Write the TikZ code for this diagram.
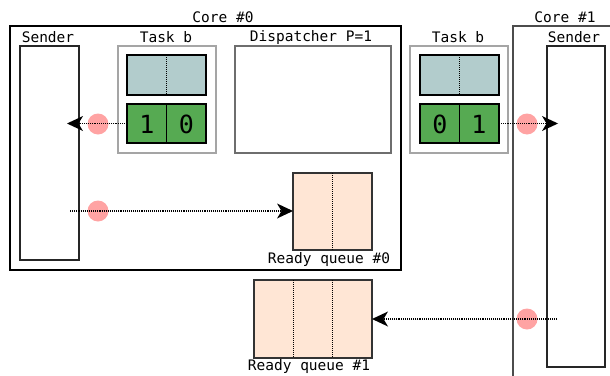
\documentclass[tikz,border=0pt]{standalone}
\usepackage{fontspec}
\setmainfont{DejaVu Sans Mono}
\usetikzlibrary{arrows.meta,calc}
\definecolor{cellteal}{RGB}{178,204,204}
\definecolor{cellgreen}{RGB}{86,170,82}
\definecolor{queuefill}{RGB}{255,230,213}
\definecolor{tokenpink}{RGB}{255,163,163}
\definecolor{framegray}{RGB}{165,165,165}
\definecolor{dispgray}{RGB}{110,110,110}
\begin{document}
\begin{tikzpicture}[x=1pt,y=-1pt,
  lbl/.style={font=\fontsize{14.5}{16}\selectfont, anchor=base, inner sep=0},
  rect/.style={rectangle, anchor=north west, inner sep=0, outer sep=0},
  senderbox/.style={rect, draw=black!85, line width=1.4pt},
  taskframe/.style={rect, draw=framegray, line width=1.5pt},
  dispbox/.style={rect, draw=dispgray, line width=1.3pt},
  stateA/.style={rect, draw=black, line width=1.3pt, fill=cellteal, minimum width=79pt, minimum height=40pt},
  stateB/.style={rect, draw=black, line width=1.3pt, fill=cellgreen, minimum width=79pt, minimum height=39pt},
  queuebox/.style={rect, draw=black!80, line width=1.3pt, fill=queuefill},
  digit/.style={font=\fontsize{25}{28}\selectfont, inner sep=0},
  token/.style={circle, fill=tokenpink, minimum size=21pt, inner sep=0},
  sep/.style={black, line width=1.2pt, dash pattern=on 1pt off 1pt},
  flow/.style={black, line width=1.6pt, dash pattern=on 1.1pt off 1pt,
    -{Stealth[length=16pt,width=15pt,inset=4.5pt,line width=0pt]}},
]
\useasboundingbox (0,0) rectangle (610,375);

% ---- Core #0 ----
\node[rect, draw=black, line width=2.8pt, minimum width=391pt, minimum height=244pt] (core0) at (10,26) {};
\node[lbl] (core0l) at (223,22) {Core \#0};

\node[senderbox, minimum width=59pt, minimum height=214pt] (s0) at (20,46) {};
\node[lbl] (s0l) at (48,42) {Sender};

\node[taskframe, minimum width=98pt, minimum height=107pt] (tb0) at (118,46) {};
\node[lbl] (tb0l) at (166,42) {Task b};
\node[stateA] (a0) at (127,55) {};
\draw[sep] (a0.north) -- (a0.south);
\node[stateB] (g0) at (127,104) {};
\draw[black, line width=1.3pt] (g0.north) -- (g0.south);
\node[digit] (g0d1) at (147,124) {1};
\node[digit] (g0d2) at (186.5,124) {0};

\node[dispbox, minimum width=156pt, minimum height=107pt] (disp) at (235,46) {};
\node[lbl] (displ) at (311,41) {Dispatcher P=1};

\node[queuebox, minimum width=79pt, minimum height=77pt] (rq0) at (293,173) {};
\draw[sep] (rq0.north) -- (rq0.south);
\node[lbl] (rq0l) at (329,263) {Ready queue \#0};

% ---- Ready queue #1 ----
\node[queuebox, minimum width=118pt, minimum height=78pt] (rq1) at (254,280) {};
\draw[sep] ($(rq1.north west)!1/3!(rq1.north east)$) -- ($(rq1.south west)!1/3!(rq1.south east)$);
\draw[sep] ($(rq1.north west)!2/3!(rq1.north east)$) -- ($(rq1.south west)!2/3!(rq1.south east)$);
\node[lbl] (rq1l) at (309,370) {Ready queue \#1};

% ---- Task b seen from core #1 ----
\node[taskframe, minimum width=98pt, minimum height=107pt] (tb1) at (410,46) {};
\node[lbl] (tb1l) at (458,42) {Task b};
\node[stateA] (a1) at (420,55) {};
\draw[sep] (a1.north) -- (a1.south);
\node[stateB] (g1) at (420,104) {};
\draw[black, line width=1.3pt] (g1.north) -- (g1.south);
\node[digit] (g1d1) at (440,124) {0};
\node[digit] (g1d2) at (479,124) {1};

% ---- Core #1 (frame runs past the picture edge) ----
\draw[black!70, line width=1.3pt] (611,26) -- (513,26) -- (513,376);
\node[lbl] (core1l) at (565,22) {Core \#1};
\node[senderbox, minimum width=58pt, minimum height=321pt] (s1) at (547,46) {};
\node[lbl] (s1l) at (574,42) {Sender};

% ---- Messages in flight ----
\node[token] (m1) at (98,124) {};
\node[token] (m2) at (98,211) {};
\node[token] (m3) at (527,124) {};
\node[token] (m4) at (527,319) {};

\coordinate (m1tip) at ([xshift=-12pt]s0.east |- g0.west);
\coordinate (m2src) at ([xshift=-9pt]s0.east |- m2);
\coordinate (m3tip) at ([xshift=11pt]s1.west |- g1.east);
\coordinate (m4src) at ([xshift=10pt]s1.west |- m4);

\draw[flow] (g0.west) -- (m1tip);
\draw[flow] (m2src) -- (rq0.west |- m2);
\draw[flow] (g1.east) -- (m3tip);
\draw[flow] (m4src) -- (rq1.east |- m4);
\end{tikzpicture}
\end{document}
